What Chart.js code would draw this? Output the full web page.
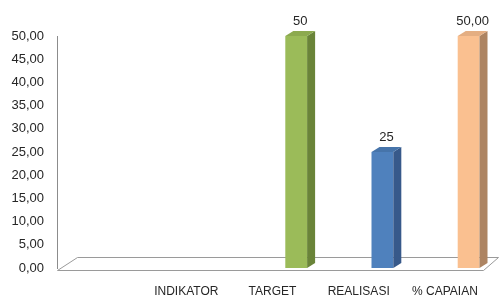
<!DOCTYPE html>
<html>
<head>
<meta charset="utf-8">
<script src="https://cdn.jsdelivr.net/npm/chart.js@4.4.1/dist/chart.umd.min.js"></script>
<style>
  html, body { margin: 0; padding: 0; background: #fff; }
  #wrap { width: 499px; height: 299px; }
</style>
</head>
<body>
<div id="wrap"><canvas id="chart"></canvas></div>
<script>
// Dados do gráfico
const categories = ['', 'INDIKATOR', 'TARGET', 'REALISASI', '% CAPAIAN'];
const values = [null, null, 50, 25, 50];
const valueLabels = ['', '', '50', '25', '50,00'];
const spacer = [null, null, null, null, null];

// Cores (frente, lateral, topo)
const frontColors = ['#9BBB59', '#9BBB59', '#9BBB59', '#4F81BD', '#FAC090'];
const sideColors = ['#6A8439', '#6A8439', '#6A8439', '#37598A', '#AD8462'];
const topColors = ['#8CAA4F', '#8CAA4F', '#8CAA4F', '#4674AA', '#E4AE82'];

const DX = 8, DY = 5;

// Piso em perspectiva
const floorPlugin = {
    id: 'floor',
    beforeDatasetsDraw(chart) {
        const ctx = chart.ctx;
        const a = chart.chartArea;
        const y0 = chart.scales.y.getPixelForValue(0);
        ctx.save();
        ctx.strokeStyle = '#9a9a9a';
        ctx.lineWidth = 1;
        ctx.fillStyle = '#ffffff';
        ctx.beginPath();
        ctx.moveTo(a.left + 0.5, y0 + 2.5);
        ctx.lineTo(a.left + 20.5, y0 - 10.5);
        ctx.lineTo(a.right + 10.5, y0 - 10.5);
        ctx.lineTo(a.right - 4.5, y0 + 2.5);
        ctx.closePath();
        ctx.fill();
        ctx.stroke();
        ctx.restore();
    }
};

// Lateral e topo das barras (efeito 3D) + rótulos
const bar3dPlugin = {
    id: 'bar3d',
    afterDatasetsDraw(chart) {
        const ctx = chart.ctx;
        const meta = chart.getDatasetMeta(1);
        ctx.save();
        meta.data.forEach((bar, i) => {
            if (values[i] === null) return;
            const left = bar.x - bar.width / 2;
            const right = bar.x + bar.width / 2;
            const top = bar.y;
            const base = bar.base;

            ctx.fillStyle = sideColors[i];
            ctx.beginPath();
            ctx.moveTo(right, top);
            ctx.lineTo(right + DX, top - DY);
            ctx.lineTo(right + DX, base - DY);
            ctx.lineTo(right, base);
            ctx.closePath();
            ctx.fill();

            ctx.fillStyle = topColors[i];
            ctx.beginPath();
            ctx.moveTo(left, top);
            ctx.lineTo(left + DX, top - DY);
            ctx.lineTo(right + DX, top - DY);
            ctx.lineTo(right, top);
            ctx.closePath();
            ctx.fill();

            ctx.fillStyle = '#262626';
            ctx.font = '13px "Liberation Sans", Arial, sans-serif';
            ctx.textAlign = 'center';
            ctx.textBaseline = 'bottom';
            ctx.fillText(valueLabels[i], bar.x + DX / 2, top - DY - 3);
        });
        ctx.restore();
    }
};

const ctx = document.getElementById('chart').getContext('2d');
new Chart(ctx, {
    type: 'bar',
    data: {
        labels: categories,
        datasets: [
            { data: spacer, backgroundColor: 'transparent' },
            {
                data: values,
                backgroundColor: frontColors,
                borderWidth: 0
            }
        ]
    },
    options: {
        responsive: true,
        maintainAspectRatio: false,
        animation: false,
        layout: { padding: { top: 36, right: 11, left: 0, bottom: 0 } },
        datasets: {
            bar: { categoryPercentage: 1.1, barPercentage: 0.46 }
        },
        plugins: {
            legend: { display: false },
            tooltip: { enabled: false }
        },
        scales: {
            x: {
                afterFit(scale) { scale.height = 31; },
                grid: { display: false, drawTicks: false },
                border: { display: false },
                ticks: {
                    autoSkip: false,
                    maxRotation: 0,
                    padding: 16,
                    color: '#262626',
                    font: { family: '"Liberation Sans", Arial, sans-serif', size: 12 }
                }
            },
            y: {
                min: 0,
                max: 50,
                afterFit(scale) { scale.width = 57; },
                grid: { display: false, drawTicks: false },
                border: { display: true, color: '#8c8c8c', width: 1 },
                ticks: {
                    stepSize: 5,
                    padding: 13,
                    color: '#262626',
                    font: { family: '"Liberation Sans", Arial, sans-serif', size: 13 },
                    callback: value => value.toFixed(2).replace('.', ',')
                }
            }
        }
    },
    plugins: [floorPlugin, bar3dPlugin]
});
</script>
</body>
</html>
